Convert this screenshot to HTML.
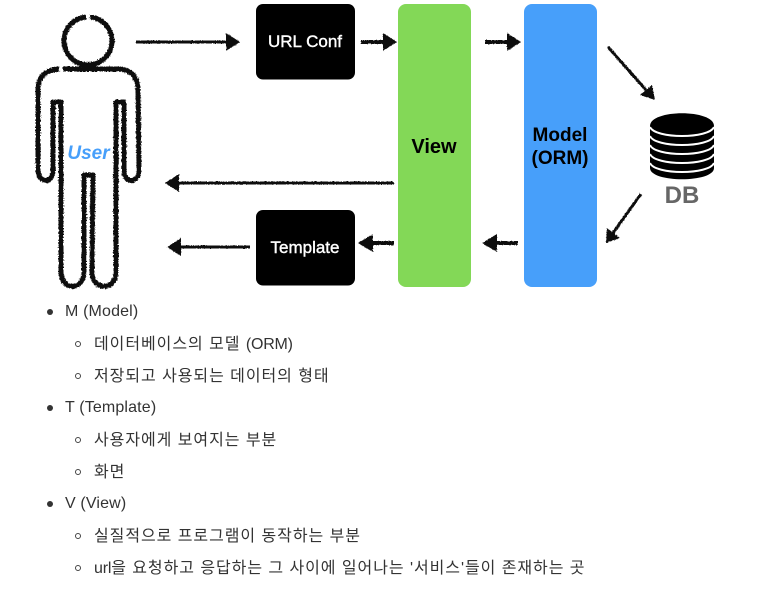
<!DOCTYPE html>
<html lang="ko">
<head>
<meta charset="utf-8">
<style>
html,body{margin:0;padding:0;background:#fff;width:757px;height:600px;overflow:hidden}
#d{position:absolute;left:0;top:0}
.t{position:absolute;white-space:nowrap;font:16px/20px "Liberation Sans","Noto Sans CJK KR",sans-serif;color:#333;letter-spacing:.95px}
.l{letter-spacing:.15px}
.s{letter-spacing:-.2px}
.b{position:absolute;left:47px;width:6px;height:6px;border-radius:50%;background:#333}
.c{position:absolute;left:75px;width:4px;height:4px;border-radius:50%;border:1px solid #444}
</style>
</head>
<body>
<svg id="d" width="757" height="600" viewBox="0 0 757 600" xmlns="http://www.w3.org/2000/svg">
<defs>
<filter id="r" x="-10%" y="-10%" width="120%" height="120%">
<feTurbulence type="fractalNoise" baseFrequency="0.7" numOctaves="2" seed="3"/>
<feDisplacementMap in="SourceGraphic" scale="3" xChannelSelector="R" yChannelSelector="G"/>
</filter>
<filter id="r2" x="-10%" y="-60%" width="120%" height="220%">
<feTurbulence type="fractalNoise" baseFrequency="0.8" numOctaves="2" seed="5"/>
<feDisplacementMap in="SourceGraphic" scale="1.8" xChannelSelector="R" yChannelSelector="G"/>
</filter>
</defs>

<rect x="256" y="4" width="99" height="75.500" rx="7" fill="#000"/>
<rect x="256" y="210" width="99" height="75.500" rx="7" fill="#000"/>
<rect x="398" y="4" width="73" height="283" rx="8" fill="#83d857"/>
<rect x="524" y="4" width="73" height="283" rx="8" fill="#479ffa"/>

<g filter="url(#r)" fill="none" stroke="#111" stroke-width="5" stroke-linecap="butt" stroke-linejoin="round">
<path d="M86 17A24 24 0 1 0 90 17"/>
<path d="M59 69C46 70 38 76 38 90L38 170C38 183 53 185 53 170L53 102H61L61 272C61 291 84 291 84 272L84 175H93L92 272C92 291 116 291 116 272L116 102H124L124 170C124 185 139 183 139 170L138 90C138 76 130 69 118 69L63 69"/>
</g>

<g filter="url(#r2)" stroke="#111" fill="#111">
<g stroke-width="3" fill="none">
<path d="M136 42H228"/>
<path d="M394 183H178"/>
<path d="M250 247H181"/>
</g>
<g stroke-width="4" fill="none">
<path d="M361 42H385"/>
<path d="M485 42H509"/>
<path d="M394 243H372"/>
<path d="M518 243H496"/>
</g>
<g stroke="none">
<path d="M226 33L240 42L226 51Z"/>
<path d="M383 33L397 42L383 51Z"/>
<path d="M507 33L521 42L507 51Z"/>
<path d="M179 174L165 183L179 192Z"/>
<path d="M181 238L167 247L181 256Z"/>
<path d="M373 234L358 243L373 252Z"/>
<path d="M497 234L482 243L497 252Z"/>
</g>
</g>
<g stroke="#111" fill="#111" filter="url(#r2)">
<path d="M608 47L646 90" stroke-width="3" fill="none"/>
<path d="M640 95L652 85L655 100Z" stroke="none"/>
<path d="M641 194L613 233" stroke-width="3" fill="none"/>
<path d="M607 228L620 238L606 243Z" stroke="none"/>
</g>

<path d="M650 126C650 109 714 109 714 126V168C714 183 650 183 650 168Z" fill="#000"/>
<g fill="none" stroke="#fff" stroke-width="2">
<path d="M650 127C655 139 709 139 714 127"/>
<path d="M650 136C655 148 709 148 714 136"/>
<path d="M650 145C655 157 709 157 714 145"/>
<path d="M650 154C655 166 709 166 714 154"/>
<path d="M650 163C655 175 709 175 714 163"/>
</g>

<g font-family="'Liberation Sans',sans-serif" font-weight="700" text-anchor="middle">
<text x="305" y="47" font-size="17" fill="#fff" font-weight="400" stroke="#fff" stroke-width=".4">URL Conf</text>
<text x="305" y="253" font-size="17" fill="#fff" font-weight="400" stroke="#fff" stroke-width=".4">Template</text>
<text x="434" y="153" font-size="20" fill="#000">View</text>
<text x="560" y="141" font-size="19" fill="#000">Model</text>
<text x="560" y="164" font-size="19" fill="#000">(ORM)</text>
<text x="682" y="203" font-size="24" fill="#666">DB</text>
<text x="88.500" y="159" font-size="19" fill="#479ffa" font-style="italic">User</text>
</g>
</svg>

<div class="b" style="top:309px"></div>
<div class="t l" style="left:65px;top:302px">M (Model)</div>
<div class="c" style="top:341px"></div>
<div class="t" style="left:94px;top:335px">데이터베이스의 모델 <span class="s">(ORM)</span></div>
<div class="c" style="top:373px"></div>
<div class="t" style="left:94px;top:367px">저장되고 사용되는 데이터의 형태</div>
<div class="b" style="top:405px"></div>
<div class="t l" style="left:65px;top:398px">T (Template)</div>
<div class="c" style="top:437px"></div>
<div class="t" style="left:94px;top:431px">사용자에게 보여지는 부분</div>
<div class="c" style="top:469px"></div>
<div class="t" style="left:94px;top:463px">화면</div>
<div class="b" style="top:501px"></div>
<div class="t l" style="left:65px;top:494px">V (View)</div>
<div class="c" style="top:533px"></div>
<div class="t" style="left:94px;top:527px">실질적으로 프로그램이 동작하는 부분</div>
<div class="c" style="top:565px"></div>
<div class="t" style="left:94px;top:559px"><span class="s">url</span>을 요청하고 응답하는 그 사이에 일어나는 '서비스'들이 존재하는 곳</div>
</body>
</html>
